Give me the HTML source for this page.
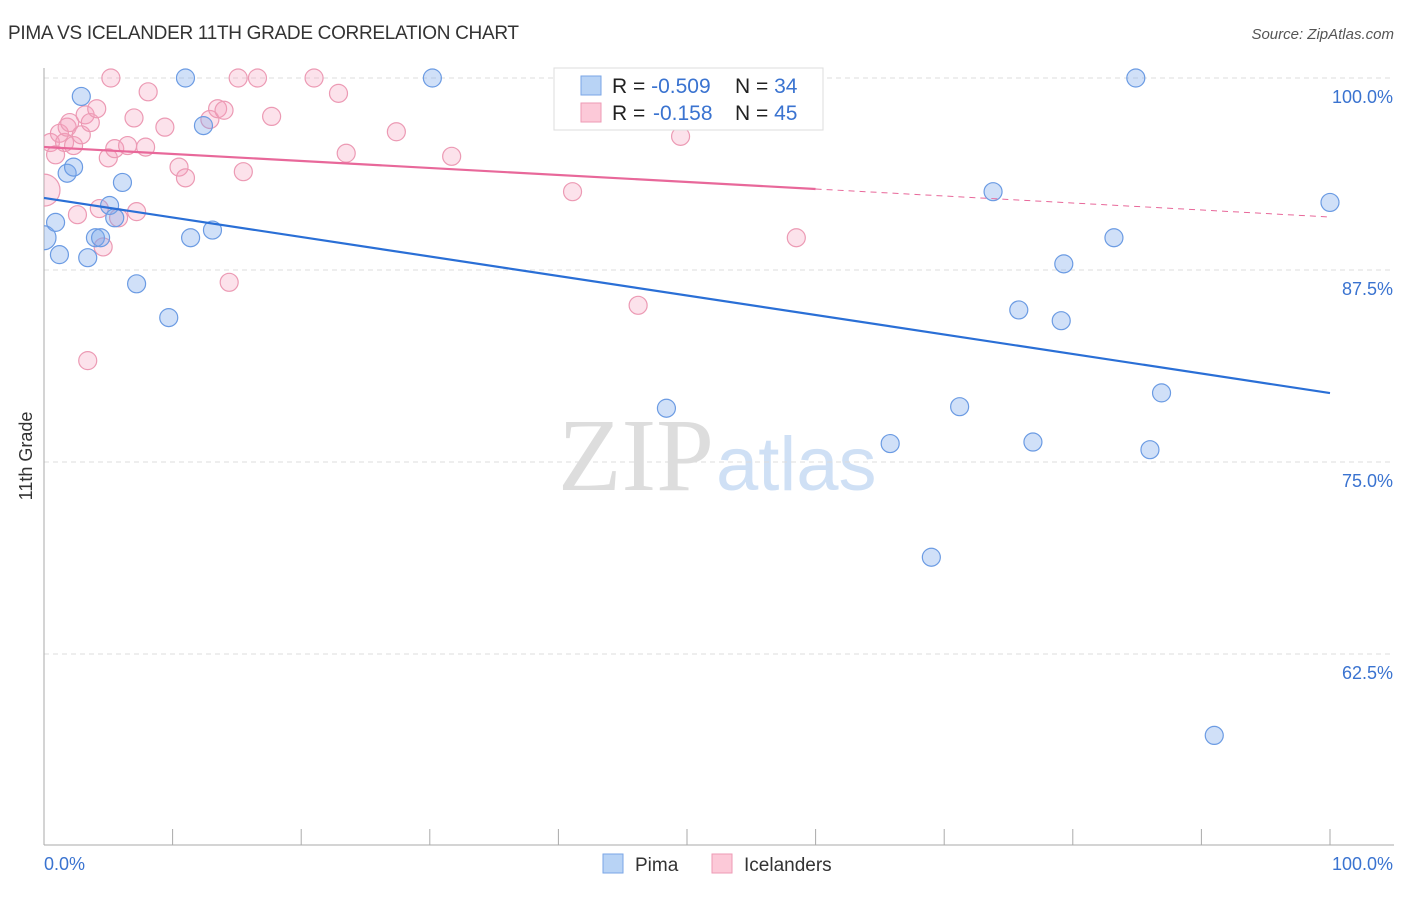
<!DOCTYPE html>
<html><head><meta charset="utf-8"><style>
body{margin:0;background:#fff;font-family:"Liberation Sans",sans-serif}
</style></head><body>
<svg width="1406" height="892" xmlns="http://www.w3.org/2000/svg" id="c">
<defs><clipPath id="plot"><rect x="44" y="60" width="1360" height="785"/></clipPath></defs>
<text x="8" y="39" font-size="19" fill="#333" textLength="511">PIMA VS ICELANDER 11TH GRADE CORRELATION CHART</text>
<text x="1394" y="39" font-size="15" fill="#555" font-style="italic" text-anchor="end">Source: ZipAtlas.com</text>
<text x="32" y="456" font-size="18" fill="#333" transform="rotate(-90 32 456)" text-anchor="middle">11th Grade</text>
<text x="714" y="490" font-size="104" fill="#ddd" font-family="Liberation Serif,serif" text-anchor="end">ZIP</text>
<text x="716" y="490" font-size="76" fill="#cfe0f5">atlas</text>
<g id="grid"></g><g id="pts" clip-path="url(#plot)"></g><g id="lines"></g>
<rect x="554" y="68" width="269" height="62" fill="#fff" stroke="#ddd"/>
<rect x="581" y="76" width="20" height="19" fill="#b8d3f5" stroke="#7aa6e6"/>
<rect x="581" y="103" width="20" height="19" fill="#fcc9d8" stroke="#ee9ab5"/>
<text x="612" y="93" font-size="21" fill="#222">R = <tspan fill="#3a73d0">-0.509</tspan><tspan x="735">N = </tspan><tspan fill="#3a73d0">34</tspan></text>
<text x="612" y="120" font-size="21" fill="#222">R = <tspan x="653" fill="#3a73d0">-0.158</tspan><tspan x="735">N = </tspan><tspan fill="#3a73d0">45</tspan></text>
<rect x="603" y="854" width="20" height="19" fill="#b8d3f5" stroke="#7aa6e6"/>
<text x="635" y="871" font-size="19" fill="#333">Pima</text>
<rect x="712" y="854" width="20" height="19" fill="#fcc9d8" stroke="#ee9ab5"/>
<text x="744" y="871" font-size="19" fill="#333">Icelanders</text>
</svg>
<script>
const yTicks=[100,87.5,75,62.5];
const yTickLabels=["100.0%","87.5%","75.0%","62.5%"];
const xTickLabels=["0.0%","100.0%"];
const pimaX=[0,0.9,1.2,1.8,2.3,2.9,3.4,4,4.4,5.1,5.5,6.1,7.2,9.7,11,11.4,12.4,13.1,30.2,48.4,65.8,69,71.2,73.8,75.8,76.9,79.1,79.3,83.2,84.9,86,86.9,91,100];
const pimaY=[89.6,90.6,88.5,93.8,94.2,98.8,88.3,89.6,89.6,91.7,90.9,93.2,86.6,84.4,100,89.6,96.9,90.1,100,78.5,76.2,68.8,78.6,92.6,84.9,76.3,84.2,87.9,89.6,100,75.8,79.5,57.2,91.9];
const iceX=[0,0.5,0.9,1.2,1.6,1.8,2,2.3,2.6,2.9,3.2,3.6,4.1,4.3,4.6,5,5.2,5.5,5.8,6.5,7,7.2,7.9,8.1,9.4,10.5,11,12.9,13.5,14,14.4,15.1,15.5,16.6,17.7,21,22.9,23.5,27.4,31.7,41.1,46.2,49.5,58.5,3.4];
const iceY=[92.7,95.8,95,96.4,95.8,96.8,97.1,95.6,91.1,96.3,97.6,97.1,98,91.5,89,94.8,100,95.4,90.9,95.6,97.4,91.3,95.5,99.1,96.8,94.2,93.5,97.3,98,97.9,86.7,100,93.9,100,97.5,100,99,95.1,96.5,94.9,92.6,85.2,96.2,89.6,81.6];
const pimaFit=[92.19,79.49];
const iceFit=[95.51,90.95];
const X=v=>44+v*12.86, Y=v=>78+(100-v)*15.36;
const NS="http://www.w3.org/2000/svg";
function mk(t,a,p){const e=document.createElementNS(NS,t);for(const k in a)e.setAttribute(k,a[k]);p.appendChild(e);return e;}
const g=document.getElementById('grid');
yTicks.forEach((t,i)=>{
 const l=mk('line',{x1:44,x2:1394,y1:Y(t),y2:Y(t),stroke:'#ddd','stroke-dasharray':'5,4'},g);
 
 
 const tx=mk('text',{x:1393,y:Y(t)+25,'font-size':18,fill:'#3a73d0','text-anchor':'end'},g);tx.textContent=yTickLabels[i];
 
 
});
const ax=mk('line',{x1:44,x2:44,y1:68,y2:845,stroke:'#aaa'},g);


const bx=mk('line',{x1:44,x2:1394,y1:845,y2:845,stroke:'#aaa'},g);


for(let i=0;i<=10;i++){const t=mk('line',{x1:X(i*10),x2:X(i*10),y1:829,y2:845,stroke:'#aaa'},g);
 
 }
[[0,'start',44],[1,'end',1393]].forEach(([i,a,x])=>{const t=mk('text',{x:x,y:870,'font-size':18,fill:'#3a73d0','text-anchor':a},g);t.textContent=xTickLabels[i];
 
 });
const p=document.getElementById('pts');
iceX.forEach((x,i)=>{const e=mk('circle',{cx:X(x),cy:Y(iceY[i]),r:i==0?16:9,fill:'rgba(244,160,188,0.3)',stroke:'#ec9ab4','stroke-width':1.2},p);
 
 });
pimaX.forEach((x,i)=>{const e=mk('circle',{cx:X(x),cy:Y(pimaY[i]),r:i==0?12:9,fill:'rgba(120,165,235,0.35)',stroke:'#6b9be3','stroke-width':1.2},p);
 
 });
const L=document.getElementById('lines');
const f=(fit,x)=>fit[0]+(fit[1]-fit[0])*x/100;
let e=mk('line',{x1:X(0),y1:Y(f(pimaFit,0)),x2:X(100),y2:Y(f(pimaFit,100)),stroke:'#2a6fd6','stroke-width':2.2},L);


e=mk('line',{x1:X(0),y1:Y(f(iceFit,0)),x2:X(60),y2:Y(f(iceFit,60)),stroke:'#e8689a','stroke-width':2.2},L);


e=mk('line',{x1:X(60),y1:Y(f(iceFit,60)),x2:X(100),y2:Y(f(iceFit,100)),stroke:'#e8689a','stroke-width':1,'stroke-dasharray':'6,5'},L);


</script>
</body></html>
